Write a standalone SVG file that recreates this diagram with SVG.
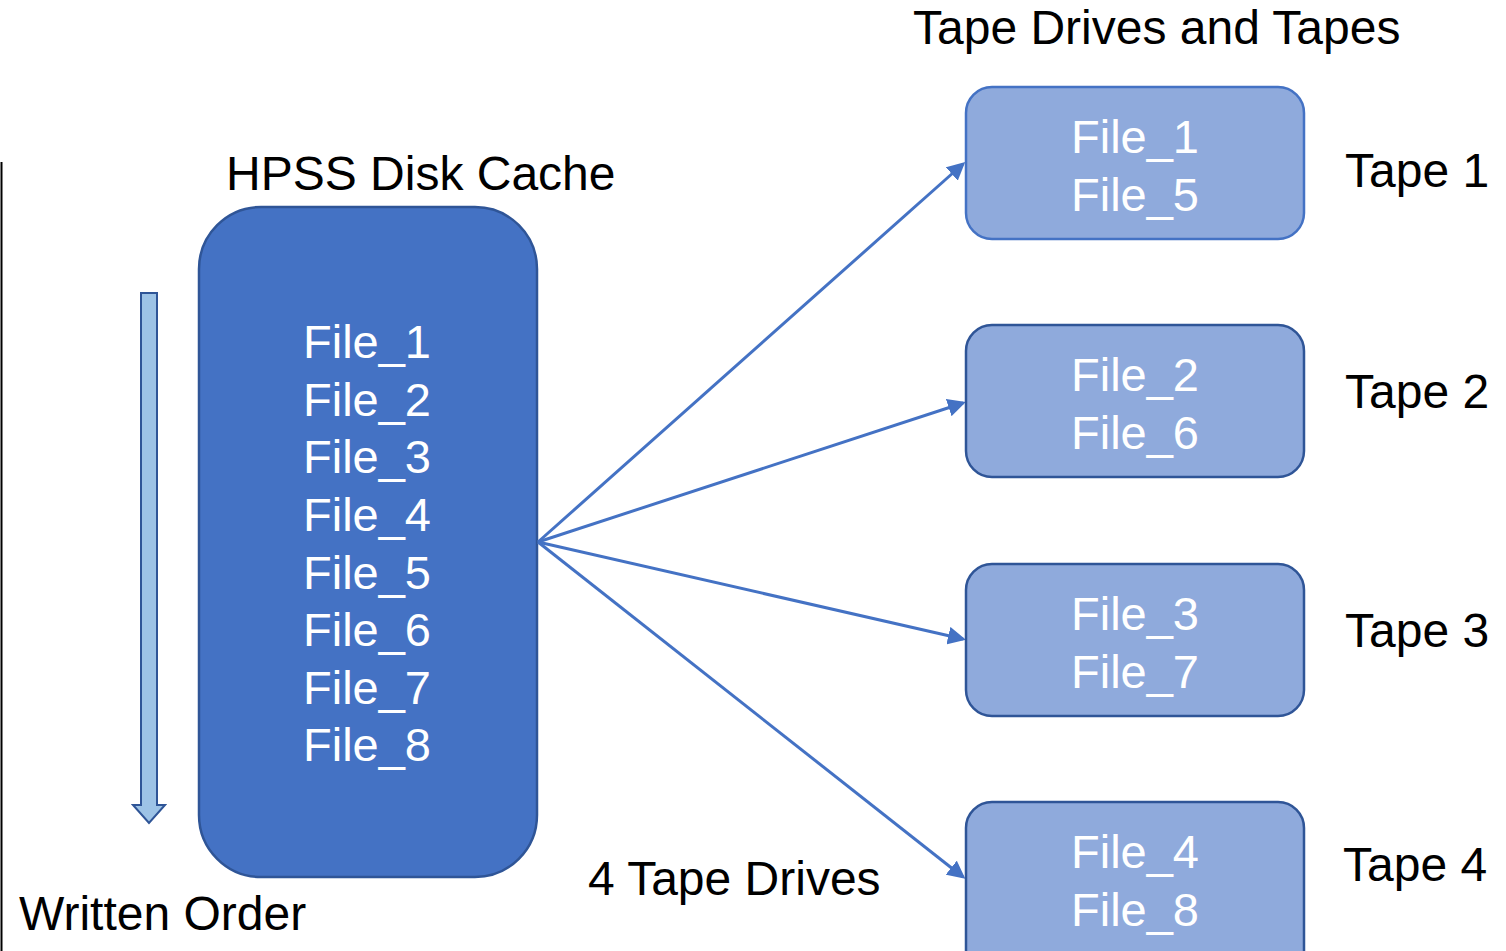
<svg xmlns="http://www.w3.org/2000/svg" width="1506" height="951" viewBox="0 0 1506 951">
<style>
text{font-family:"Liberation Sans",Arial,sans-serif;font-size:48px}
.lbl{fill:#000}
.wt{fill:#fff;text-anchor:middle;font-size:47px}
.tape{fill:#8FAADC;stroke:#2F5597;stroke-width:2.5}
.conn{stroke:#4472C4;stroke-width:3;fill:none;marker-end:url(#ah)}
</style>
<defs>
<marker id="ah" markerWidth="6" markerHeight="6" refX="5" refY="3" orient="auto" markerUnits="strokeWidth">
<path d="M0,0 L6,3 L0,6 Z" fill="#4472C4"/>
</marker>
</defs>
<rect width="1506" height="951" fill="#fff"/>
<line x1="1.5" y1="162" x2="1.5" y2="951" stroke="#000" stroke-width="2"/>
<g id="written-order">
<path d="M141,293 H157 V805 H165 L149,823 L133,805 H141 Z" fill="#9DC3E6" stroke="#2F5597" stroke-width="2"/>
<text class="lbl" x="19" y="930">Written Order</text>
</g>
<g id="disk-cache">
<text class="lbl" x="226" y="190">HPSS Disk Cache</text>
<rect x="199" y="207" width="338" height="670" rx="62" fill="#4472C4" stroke="#2F5597" stroke-width="2.5"/>
<text class="wt" x="367" y="358">File_1</text>
<text class="wt" x="367" y="416">File_2</text>
<text class="wt" x="367" y="473">File_3</text>
<text class="wt" x="367" y="531">File_4</text>
<text class="wt" x="367" y="589">File_5</text>
<text class="wt" x="367" y="646">File_6</text>
<text class="wt" x="367" y="704">File_7</text>
<text class="wt" x="367" y="761">File_8</text>
</g>
<text class="lbl" x="913" y="44">Tape Drives and Tapes</text>
<text class="lbl" x="588" y="895">4 Tape Drives</text>
<g id="connectors">
<line class="conn" x1="538" y1="542" x2="963" y2="164"/>
<line class="conn" x1="538" y1="542" x2="963" y2="403"/>
<line class="conn" x1="538" y1="542" x2="963" y2="639"/>
<line class="conn" x1="538" y1="542" x2="963" y2="877"/>
</g>
<g id="tape1">
<rect class="tape" x="966" y="87" width="338" height="152" rx="26" style="stroke:#4472C4"/>
<text class="wt" x="1135" y="153">File_1</text>
<text class="wt" x="1135" y="211">File_5</text>
<text class="lbl" x="1345" y="187">Tape 1</text>
</g>
<g id="tape2">
<rect class="tape" x="966" y="325" width="338" height="152" rx="26"/>
<text class="wt" x="1135" y="391">File_2</text>
<text class="wt" x="1135" y="449">File_6</text>
<text class="lbl" x="1345" y="408">Tape 2</text>
</g>
<g id="tape3">
<rect class="tape" x="966" y="564" width="338" height="152" rx="26"/>
<text class="wt" x="1135" y="630">File_3</text>
<text class="wt" x="1135" y="688">File_7</text>
<text class="lbl" x="1345" y="647">Tape 3</text>
</g>
<g id="tape4">
<rect class="tape" x="966" y="802" width="338" height="175" rx="26"/>
<text class="wt" x="1135" y="868">File_4</text>
<text class="wt" x="1135" y="926">File_8</text>
<text class="lbl" x="1343" y="881">Tape 4</text>
</g>
</svg>
